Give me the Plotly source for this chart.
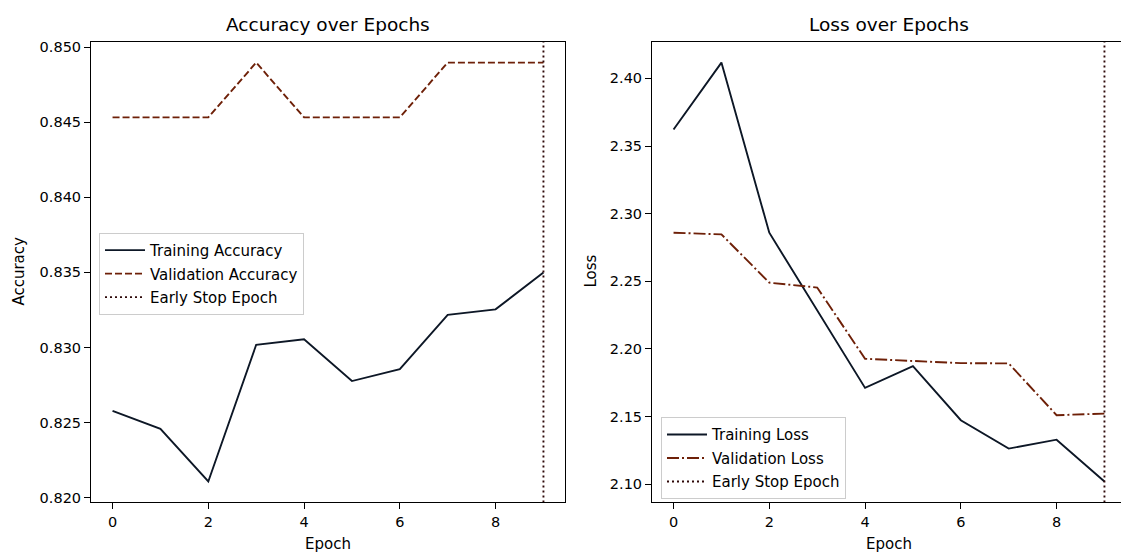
import plotly.graph_objects as go

# ---------------- data ----------------
epochs = [0, 1, 2, 3, 4, 5, 6, 7, 8, 9]
train_acc = [0.82577, 0.82458, 0.82107, 0.83018, 0.83055, 0.82776, 0.82855, 0.83217, 0.83254, 0.83500]
val_acc = [0.84533, 0.84533, 0.84533, 0.84898, 0.84533, 0.84533, 0.84533, 0.84898, 0.84898, 0.84898]
train_loss = [2.3622, 2.4117, 2.2859, 2.2286, 2.1712, 2.1873, 2.1473, 2.1263, 2.1329, 2.1020]
val_loss = [2.2859, 2.2847, 2.2490, 2.2454, 2.1927, 2.1910, 2.1895, 2.1893, 2.1510, 2.1522]
early_stop_epoch = 9

acc_ticks = [0.820, 0.825, 0.830, 0.835, 0.840, 0.845, 0.850]
loss_ticks = [2.10, 2.15, 2.20, 2.25, 2.30, 2.35, 2.40]
epoch_ticks = [0, 2, 4, 6, 8]

# ---------------- style ----------------
W, H = 1121, 553
FONT = "DejaVu Sans"
C_TRAIN = "#0d1726"
C_VAL = "#6e2008"
C_STOP = "#2e0808"
LW = 1.9


def pad_range(vals, frac=0.05):
    lo, hi = min(vals), max(vals)
    d = (hi - lo) * frac
    return [lo - d, hi + d]


acc_range = pad_range(train_acc + val_acc)
loss_range = pad_range(train_loss + val_loss)
x_lo, x_hi = pad_range(epochs)

# pixel layout of the two axes boxes
top_px, bot_px = 40, 505
L1, R1 = 91, 565
L2 = 652
px_per_epoch = (R1 - L1) / (x_hi - x_lo)
x2_hi = x_lo + (W - L2) / px_per_epoch  # right panel is cut at the image edge

ydom = [(H - bot_px) / H, (H - top_px) / H]

fig = go.Figure()

# left panel
fig.add_trace(go.Scatter(x=epochs, y=train_acc, mode="lines", name="Training Accuracy",
                         line=dict(color=C_TRAIN, width=LW), xaxis="x", yaxis="y",
                         legend="legend", legendgroup="a1"))
fig.add_trace(go.Scatter(x=epochs, y=val_acc, mode="lines", name="Validation Accuracy",
                         line=dict(color=C_VAL, width=LW, dash="7px,3px"), xaxis="x", yaxis="y",
                         legend="legend", legendgroup="a2"))
fig.add_trace(go.Scatter(x=[early_stop_epoch, early_stop_epoch], y=acc_range, mode="lines",
                         name="Early Stop Epoch",
                         line=dict(color=C_STOP, width=LW, dash="2px,3px"), xaxis="x", yaxis="y",
                         legend="legend", legendgroup="a3"))

# right panel
fig.add_trace(go.Scatter(x=epochs, y=train_loss, mode="lines", name="Training Loss",
                         line=dict(color=C_TRAIN, width=LW), xaxis="x2", yaxis="y2",
                         legend="legend2", legendgroup="b1"))
fig.add_trace(go.Scatter(x=epochs, y=val_loss, mode="lines", name="Validation Loss",
                         line=dict(color=C_VAL, width=LW, dash="12px,3px,2px,3px"), xaxis="x2", yaxis="y2",
                         legend="legend2", legendgroup="b2"))
fig.add_trace(go.Scatter(x=[early_stop_epoch, early_stop_epoch], y=loss_range, mode="lines",
                         name="Early Stop Epoch",
                         line=dict(color=C_STOP, width=LW, dash="2px,3px"), xaxis="x2", yaxis="y2",
                         legend="legend2", legendgroup="b3"))

axis_common = dict(showgrid=False, zeroline=False, showline=True, linecolor="black", linewidth=1,
                   ticks="outside", ticklen=6, tickwidth=1, tickcolor="black",
                   tickfont=dict(family=FONT, size=14.5, color="black"))

legend_common = dict(bgcolor="rgba(255,255,255,0.8)", bordercolor="#cccccc", borderwidth=1,
                     font=dict(family=FONT, size=15, color="black"),
                     traceorder="grouped", tracegroupgap=1, itemwidth=40,
                     xanchor="left", yanchor="top")

fig.update_layout(
    width=W, height=H,
    margin=dict(l=0, r=0, t=0, b=0),
    paper_bgcolor="white", plot_bgcolor="white",
    font=dict(family=FONT, size=14.5, color="black"),
    xaxis=dict(domain=[L1 / W, R1 / W], range=[x_lo, x_hi], tickvals=epoch_ticks,
               mirror=True, anchor="y", **axis_common),
    yaxis=dict(domain=ydom, range=acc_range, tickvals=acc_ticks, tickformat=".3f",
               mirror=True, anchor="x", **axis_common),
    xaxis2=dict(domain=[L2 / W, 1.0], range=[x_lo, x2_hi], tickvals=epoch_ticks,
                mirror=True, anchor="y2", **axis_common),
    yaxis2=dict(domain=ydom, range=loss_range, tickvals=loss_ticks, tickformat=".2f",
                mirror=False, anchor="x2", **axis_common),
    legend=dict(x=99 / W, y=(H - 233) / H, **legend_common),
    legend2=dict(x=661 / W, y=(H - 419) / H, **legend_common),
    showlegend=True,
)

ann_font = dict(family=FONT, size=15, color="black")
title_font = dict(family=FONT, size=18.5, color="black")
c1 = (L1 + R1) / 2
c2 = L2 + (R1 - L1) / 2
fig.add_annotation(text="Accuracy over Epochs", x=c1 / W, y=(H - 23) / H,
                   xref="paper", yref="paper", showarrow=False, font=title_font,
                   xanchor="center", yanchor="middle")
fig.add_annotation(text="Loss over Epochs", x=c2 / W, y=(H - 23) / H,
                   xref="paper", yref="paper", showarrow=False, font=title_font,
                   xanchor="center", yanchor="middle")
fig.add_annotation(text="Epoch", x=c1 / W, y=(H - 547) / H,
                   xref="paper", yref="paper", showarrow=False, font=ann_font,
                   xanchor="center", yanchor="middle")
fig.add_annotation(text="Epoch", x=c2 / W, y=(H - 547) / H,
                   xref="paper", yref="paper", showarrow=False, font=ann_font,
                   xanchor="center", yanchor="middle")
fig.add_annotation(text="Accuracy", x=19 / W, y=(H - 272) / H, textangle=-90,
                   xref="paper", yref="paper", showarrow=False, font=ann_font,
                   xanchor="center", yanchor="middle")
fig.add_annotation(text="Loss", x=591 / W, y=(H - 272) / H, textangle=-90,
                   xref="paper", yref="paper", showarrow=False, font=ann_font,
                   xanchor="center", yanchor="middle")

fig.write_html("out.html", config={"displayModeBar": False},
               post_script="document.body.style.margin='0';document.body.style.overflow='hidden';")
